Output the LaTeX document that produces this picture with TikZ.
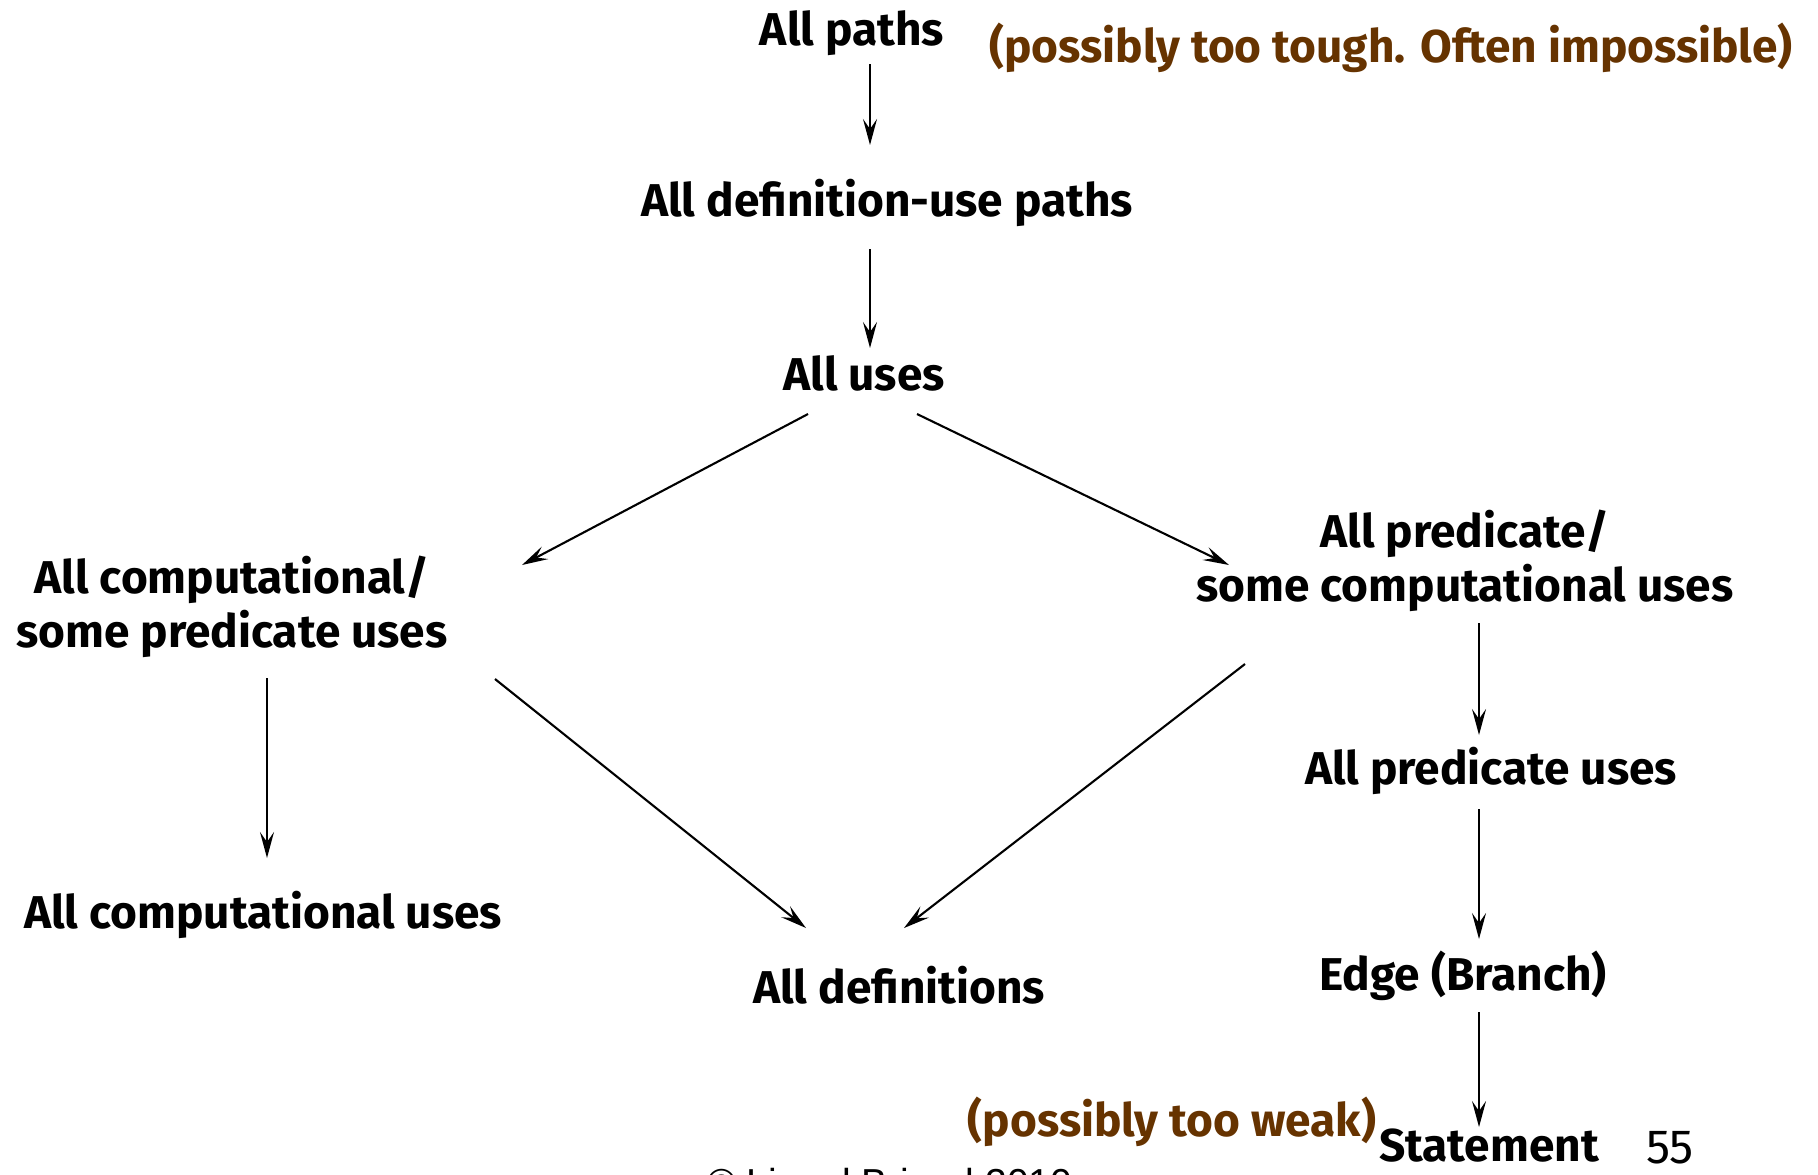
\documentclass[tikz,border=0pt]{standalone}
\usepackage{fontspec}
\setmainfont{Fira Sans}
\newfontfamily\plainsans{Liberation Sans}
\usetikzlibrary{arrows.meta}
\definecolor{notebrown}{RGB}{102,51,0}
\begin{document}
\begin{tikzpicture}[x=0.5pt,y=-0.5pt,
  crit/.style={inner sep=0pt, align=center,
    font=\fontsize{23}{27}\selectfont\bfseries},
  remark/.style={crit, text=notebrown},
  arr/.style={line width=1.05pt,
    -{Stealth[length=13pt,width=7pt,inset=5pt]}}]
\path[use as bounding box, fill=white] (0,0) rectangle (1818,1174);

% coverage criteria
\node[crit] (paths)    at (852,33)   {All paths};
\node[crit] (defuse)   at (887,203)  {All definition-use paths};
\node[crit] (uses)     at (864,373)  {All uses};
\node[crit] (compsome) at (232,607)  {All computational/\\some predicate uses};
\node[crit] (predsome) at (1465,561) {All predicate/\\some computational uses};
\node[crit] (allpred)  at (1491,771) {All predicate uses};
\node[crit] (edge)     at (1463,976) {Edge (Branch)};
\node[crit] (stmt)     at (1489,1146){Statement};
\node[crit] (allcomp)  at (263,915)  {All computational uses};
\node[crit] (alldefs)  at (899,985)  {All definitions};

% remarks
\node[remark] (tough) at (1391,48)  {(possibly too tough. Often impossible)};
\node[remark] (weak)  at (1172,1122) {(possibly too weak)};

% page number and footer
\node[inner sep=0pt, font=\fontsize{24}{28}\selectfont] (pagenum) at (1670,1148) {55};
\begin{scope}
\clip (0,0) rectangle (1818,1174);
\node[inner sep=0pt, anchor=north west, font=\plainsans\fontsize{19.5}{22}\selectfont]
  (footer) at (707,1168) {\textcopyright{} Lionel Briand 2010};
\end{scope}

% subsumption arrows
\draw[arr] ([shift={(18,31)}]paths.center)      -- ([shift={(-17,-58)}]defuse.center);
\draw[arr] ([shift={(-17,46)}]defuse.center)    -- ([shift={(6,-25)}]uses.center);
\draw[arr] ([shift={(-56,41)}]uses.center)      -- ([shift={(290,-42)}]compsome.center);
\draw[arr] ([shift={(53,41)}]uses.center)       -- ([shift={(-236,4)}]predsome.center);
\draw[arr] ([shift={(14,62)}]predsome.center)   -- ([shift={(-12,-36)}]allpred.center);
\draw[arr] ([shift={(-12,38)}]allpred.center)   -- ([shift={(16,-37)}]edge.center);
\draw[arr] ([shift={(16,36)}]edge.center)       -- ([shift={(-10,-19)}]stmt.center);
\draw[arr] ([shift={(35,71)}]compsome.center)   -- ([shift={(4,-57)}]allcomp.center);
\draw[arr] ([shift={(263,72)}]compsome.center)  -- ([shift={(-93,-57)}]alldefs.center);
\draw[arr] ([shift={(-220,103)}]predsome.center) -- ([shift={(5,-57)}]alldefs.center);
\end{tikzpicture}
\end{document}
